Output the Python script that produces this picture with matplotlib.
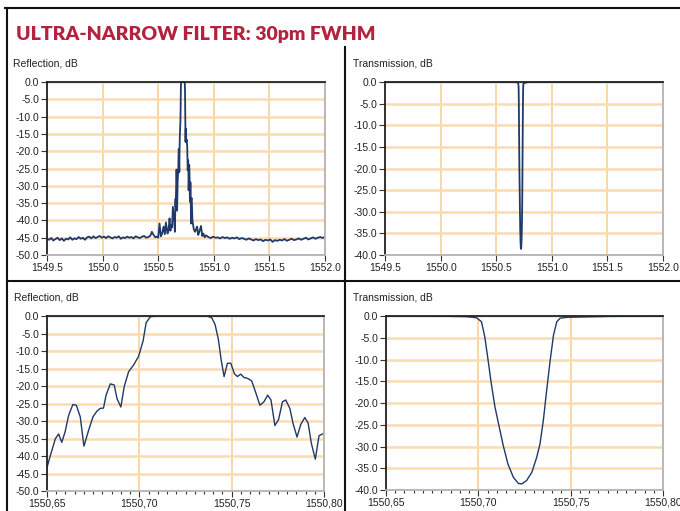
import matplotlib
matplotlib.use("Agg")
import matplotlib.pyplot as plt
from matplotlib.lines import Line2D
from matplotlib.ticker import FuncFormatter, MultipleLocator
import numpy as np

W, H = 680, 511

# ---- data ----
# detailed reflection, 1550.65 - 1550.80 nm
refl_x = [1550.650, 1550.6518, 1550.6545, 1550.6563, 1550.658, 1550.6598, 1550.6617,
          1550.664, 1550.6659, 1550.668, 1550.670, 1550.6725, 1550.6749, 1550.677,
          1550.6788, 1550.6806, 1550.682, 1550.6843, 1550.6864, 1550.6879, 1550.690,
          1550.6918, 1550.6942, 1550.6969, 1550.6996, 1550.702, 1550.7037, 1550.706,
          1550.7095, 1550.720, 1550.730, 1550.7365, 1550.7392, 1550.741, 1550.7428,
          1550.7443, 1550.7459, 1550.7477, 1550.7495, 1550.7515, 1550.7531, 1550.7549,
          1550.7567, 1550.7585, 1550.7608, 1550.7626, 1550.7653, 1550.7675, 1550.7695,
          1550.7713, 1550.7734, 1550.7754, 1550.7775, 1550.7793, 1550.7815, 1550.7833,
          1550.7854, 1550.7874, 1550.7896, 1550.7914, 1550.7932, 1550.7953, 1550.7973,
          1550.800]
refl_db = [-43.3, -39.9, -35.1, -33.7, -36.1, -33.1, -28.4,
           -25.3, -25.5, -28.8, -37.2, -32.7, -28.8, -27.2,
           -26.4, -26.3, -22.6, -19.4, -19.7, -23.6, -26.0,
           -20.2, -15.9, -14.0, -11.5, -7.2, -1.9, -0.2,
           0.0, 0.0, 0.0, 0.0, -0.5, -2.4, -6.7,
           -12.5, -17.3, -13.5, -13.5, -16.5, -17.3, -16.6,
           -17.6, -17.8, -18.5, -21.2, -25.5, -24.5, -22.6,
           -24.0, -31.3, -29.6, -24.5, -24.0, -26.4, -30.8,
           -34.6, -31.0, -29.0, -30.6, -36.5, -40.9, -34.2,
           -33.5]

# detailed transmission, 1550.65 - 1550.80 nm
trans_x = [1550.650, 1550.680, 1550.6935, 1550.699, 1550.7017, 1550.7035, 1550.7053,
           1550.707, 1550.709, 1550.7113, 1550.7135, 1550.716, 1550.719, 1550.7217,
           1550.7235, 1550.7262, 1550.729, 1550.7316, 1550.7334, 1550.7352, 1550.737,
           1550.7389, 1550.7407, 1550.7425, 1550.7443, 1550.748, 1550.770, 1550.800]
trans_db = [0.0, -0.05, -0.15, -0.4, -1.3, -4.8, -10.2,
            -15.5, -20.9, -25.5, -29.8, -34.0, -37.1, -38.5,
            -38.6, -37.8, -35.9, -32.5, -29.4, -24.0, -17.1,
            -10.2, -4.4, -1.3, -0.5, -0.3, -0.1, 0.0]

# wide-span reflection: noise floor and side lobes outside the detailed window
floor_left_db = [-45.3, -45.6, -45.1, -45.8, -45.4, -45.0, -45.7, -45.2, -45.9, -45.3,
                 -45.5, -44.9, -45.6, -45.2, -45.4, -44.8, -45.3, -45.0, -45.6, -44.9,
                 -44.7, -45.2, -44.6, -45.1, -44.8, -44.5, -45.0, -44.7, -45.1, -44.6,
                 -44.9, -45.2, -44.8, -45.0, -44.6, -45.3, -44.9, -45.1, -44.7, -45.0,
                 -44.8, -45.2, -44.6, -44.9, -45.1, -44.7, -44.5, -45.0, -44.8, -44.4]
floor_left_x0, floor_left_x1 = 1549.50, 1550.43
lobes_left_x = [1550.443, 1550.458, 1550.475, 1550.488, 1550.500, 1550.512, 1550.524,
                1550.536, 1550.548, 1550.560, 1550.569, 1550.584, 1550.594, 1550.602,
                1550.610, 1550.617, 1550.625, 1550.632, 1550.644]
lobes_left_db = [-43.3, -44.2, -44.9, -44.7, -45.0, -40.9, -44.6,
                 -43.8, -41.8, -44.0, -40.6, -43.8, -42.5, -39.4,
                 -43.0, -41.3, -42.0, -36.1, -39.9]
lobes_right_x = [1550.808, 1550.820, 1550.832, 1550.842, 1550.850, 1550.860, 1550.870,
                 1550.885, 1550.896, 1550.906, 1550.918, 1550.930]
lobes_right_db = [-40.0, -42.6, -43.3, -42.4, -41.8, -44.2, -43.3,
                  -41.6, -44.5, -43.8, -44.9, -44.3]
floor_right_db = [-44.8, -45.1, -44.7, -45.0, -44.9, -45.2, -44.8, -45.1, -44.9, -45.3,
                  -45.0, -45.2, -44.9, -45.4, -45.1, -45.3, -45.6, -45.2, -45.5, -45.8,
                  -45.4, -45.7, -45.5, -46.0, -45.6, -45.8, -45.5, -46.2, -45.7, -45.9,
                  -45.6, -45.8, -45.4, -45.9, -45.6, -45.3, -45.7, -45.5, -45.2, -45.6,
                  -45.3, -45.0, -45.5, -45.2, -44.9, -45.3, -45.0, -44.8, -45.1, -44.7]
floor_right_x0, floor_right_x1 = 1550.95, 1552.00

# wide-span transmission flat parts
trans_wide_edges_x = [1549.50, 1552.00]
trans_wide_edges_db = [0.0, 0.0]

TITLE = "ULTRA-NARROW FILTER: 30pm FWHM"

# ---- assemble series ----
fl_x = np.linspace(floor_left_x0, floor_left_x1, len(floor_left_db))
fr_x = np.linspace(floor_right_x0, floor_right_x1, len(floor_right_db))
wide_refl_x = np.concatenate([fl_x, lobes_left_x, refl_x, lobes_right_x, fr_x])
wide_refl_db = np.concatenate([floor_left_db, lobes_left_db, refl_db, lobes_right_db, floor_right_db])
wide_trans_x = np.concatenate([[trans_wide_edges_x[0]], trans_x, [trans_wide_edges_x[1]]])
wide_trans_db = np.concatenate([[trans_wide_edges_db[0]], trans_db, [trans_wide_edges_db[1]]])

plt.rcParams["font.family"] = ["Liberation Sans", "DejaVu Sans"]
LINE = "#1f3a68"
GRID_Y = "#fbdcb2"
GRID_X = "#f7cd90"
DARK = "#222222"
LIGHT = "#b4b4b4"

fig = plt.figure(figsize=(W / 100, H / 100), dpi=100)


def px_axes(left, top, right, bottom):
    return fig.add_axes([left / W, 1 - bottom / H, (right - left) / W, (bottom - top) / H])


def style(ax, xlim, ylim, ymajor, xmajor, xminor, fmt_x, label_y):
    ax.set_xlim(*xlim)
    ax.set_ylim(*ylim)
    ax.yaxis.set_major_locator(MultipleLocator(ymajor))
    ax.xaxis.set_major_locator(MultipleLocator(xmajor))
    if xminor:
        ax.xaxis.set_minor_locator(MultipleLocator(xminor))
    ax.yaxis.set_major_formatter(FuncFormatter(lambda v, p: f"{v:.1f}"))
    ax.xaxis.set_major_formatter(FuncFormatter(fmt_x))
    ax.tick_params(axis="both", which="major", labelsize=7.5, length=4, width=0.8,
                   color="#333333", pad=1.5, labelcolor="#222222")
    ax.tick_params(axis="x", which="minor", length=2.5, width=0.8, color="#333333")
    ax.grid(axis="y", color=GRID_Y, lw=1.8, zorder=0)
    ax.grid(axis="x", which="major", color=GRID_X, lw=1.1, zorder=0)
    ax.set_axisbelow(True)
    ax.spines["top"].set_color(DARK)
    ax.spines["left"].set_color(DARK)
    ax.spines["right"].set_color(LIGHT)
    ax.spines["bottom"].set_color(LIGHT)
    for s in ax.spines.values():
        s.set_linewidth(1.3)
    fig.text(label_y[0] / W, 1 - label_y[1] / H, label_y[2], fontsize=7.5,
             color="#222222", va="center", ha="left")


wide_fmt = lambda v, p: f"{v:.1f}"
fine_fmt = lambda v, p: f"{v:.2f}".replace(".", ",")

ax1 = px_axes(47, 82, 325, 255)
ax1.plot(wide_refl_x, wide_refl_db, color=LINE, lw=1.3)
style(ax1, (1549.5, 1552.0), (-50, 0), 5, 0.5, None, wide_fmt, (13, 63, "Reflection, dB"))

ax2 = px_axes(385, 82, 663, 255)
ax2.plot(wide_trans_x, wide_trans_db, color=LINE, lw=1.3)
style(ax2, (1549.5, 1552.0), (-40, 0), 5, 0.5, None, wide_fmt, (353, 63, "Transmission, dB"))

ax3 = px_axes(47, 316, 324, 491)
ax3.plot(refl_x, refl_db, color=LINE, lw=1.0)
style(ax3, (1550.65, 1550.80), (-50, 0), 5, 0.05, 0.005, fine_fmt, (14, 297, "Reflection, dB"))

ax4 = px_axes(386, 316, 663, 490)
ax4.plot(trans_x, trans_db, color=LINE, lw=1.0)
style(ax4, (1550.65, 1550.80), (-40, 0), 5, 0.05, 0.005, fine_fmt, (353, 297, "Transmission, dB"))

# frame lines of the sheet
def fig_line(x0, y0, x1, y1, lw=1.5):
    fig.add_artist(Line2D([x0 / W, x1 / W], [1 - y0 / H, 1 - y1 / H],
                          color="#111111", lw=lw, transform=fig.transFigure))

fig_line(5, 8, 680, 8)
fig_line(6.5, 8, 6.5, 511)
fig_line(345, 47, 345, 511)
fig_line(6.5, 281, 680, 281)

fig.text(16 / W, 1 - 40 / H, TITLE, fontsize=14, fontweight="heavy", family=["Lato", "DejaVu Sans"],
         color="#b3233f", ha="left", va="baseline")

fig.savefig("out.png", dpi=100)
